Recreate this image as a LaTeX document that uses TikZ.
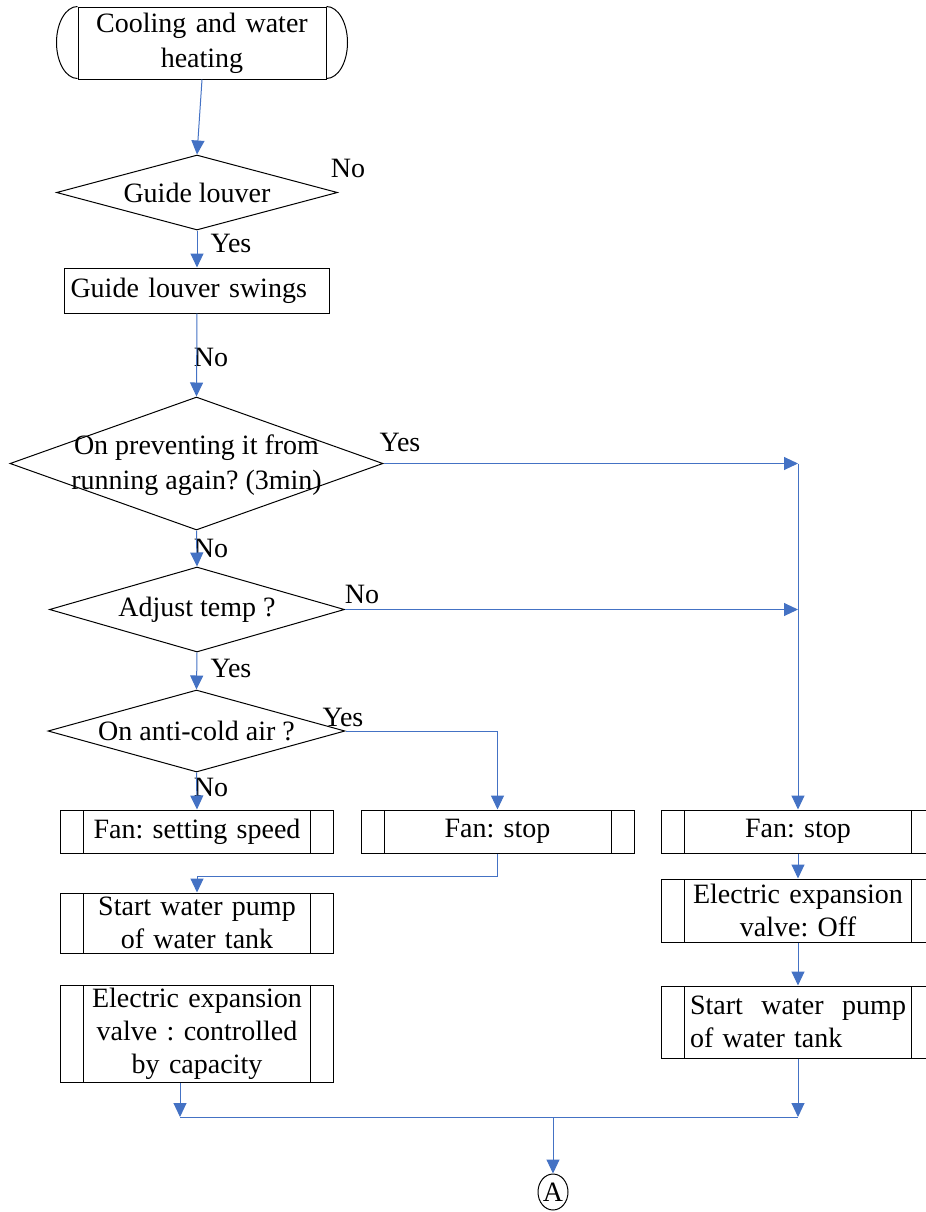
\documentclass[tikz,border=0pt]{standalone}
\usepackage{fontspec}
\setmainfont{Liberation Serif}
\usetikzlibrary{shapes.geometric,arrows.meta,calc}
\frenchspacing
\definecolor{flowblue}{HTML}{4472C4}
\tikzstyle{every node}=[font=\fontsize{14}{16.5}\selectfont]
\tikzstyle{every path}=[line width=0.5pt]
\tikzstyle{flow}=[draw=flowblue,-{Triangle[length=7pt,width=6.5pt]}]
\tikzstyle{link}=[draw=flowblue]
\tikzstyle{decision}=[diamond,draw,inner sep=0pt]
\tikzstyle{lbl}=[inner sep=0pt]
\tikzstyle{subproc}=[draw,rectangle,minimum width=136.5pt,text width=110pt,align=center,
    inner xsep=0pt,inner ysep=0.5pt,
    path picture={\draw ([xshift=11.5pt]path picture bounding box.north west) -- ([xshift=11.5pt]path picture bounding box.south west)
    ([xshift=-11.5pt]path picture bounding box.north east) -- ([xshift=-11.5pt]path picture bounding box.south east);}]

\begin{document}
\begin{tikzpicture}[x=0.5pt,y=-0.5pt]
    \useasboundingbox (0,0) rectangle (926,1212);

    % Start terminal
    \node[draw,minimum width=124pt,minimum height=36pt,text width=110pt,align=center,inner sep=0pt,
        font=\fontsize{14}{17.5}\selectfont] (start) at (202,43) {Cooling and water\\heating};
    \draw (start.north west) arc[start angle=90,end angle=270,x radius=10.5pt,y radius=18pt]
    (start.north east) arc[start angle=90,end angle=-90,x radius=10.5pt,y radius=18pt];

    % Decisions and boxes of the main column
    \node[decision,minimum width=140.5pt,minimum height=37.5pt] (guide) at (197,192.5) {};
    \node (guidetxt) at (guide.center) {Guide louver};
    \node[draw,minimum width=132.5pt,minimum height=22.5pt,text width=126.5pt,inner xsep=3pt,inner ysep=0pt,align=left] (swing) at (197,290.5) {Guide louver swings};
    \node[decision,minimum width=186.5pt,minimum height=66.5pt] (prevent) at (196.5,463.5) {};
    \node[align=center,inner sep=0pt,font=\fontsize{14}{17.5}\selectfont] (preventtxt) at (196.5,465) {On preventing it from\\running again? (3min)};
    \node[decision,minimum width=147.5pt,minimum height=42.5pt] (adjust) at (197,609.5) {};
    \node (adjusttxt) at (adjust.center) {Adjust temp\hspace{0.25em}?};
    \node[decision,minimum width=148.5pt,minimum height=41pt] (anticold) at (196.5,731) {};
    \node (anticoldtxt) at (anticold.center) {On anti-cold air\hspace{0.25em}?};

    % Process boxes
    \node[subproc,minimum height=21.5pt] (fanset) at (197,831.5) {Fan: setting speed};
    \node[subproc,minimum height=21.5pt] (fanstop) at (497.5,831.5) {Fan: stop};
    \node[subproc,minimum height=21.5pt] (fanoff) at (798,831.5) {Fan: stop};
    \node[subproc,minimum height=30pt] (pumpL) at (197,923) {Start water pump\\of water tank};
    \node[subproc,minimum height=48.5pt] (evvL) at (197,1033.5) {Electric expansion\\valve : controlled\\by capacity};
    \node[subproc,minimum height=31.5pt] (valveR) at (798,910.5) {Electric expansion\\valve: Off};
    \node[subproc,minimum height=36pt,text width=108pt,align=left] (pumpR) at (798,1022) {Start\hfill water\hfill pump\\of water tank};
    \node[ellipse,draw,minimum width=15pt,minimum height=18pt,inner sep=0pt] (conA) at (553,1192) {A};

    % Yes / No labels
    \node[lbl] (no1) at (348,168) {No};
    \node[lbl] (yes1) at (231,243) {Yes};
    \node[lbl] (no2) at (211,357) {No};
    \node[lbl] (yes2) at (400,442) {Yes};
    \node[lbl] (no3) at (211,548) {No};
    \node[lbl] (no4) at (362,594) {No};
    \node[lbl] (yes3) at (231,668) {Yes};
    \node[lbl] (yes4) at (343,717) {Yes};
    \node[lbl] (no5) at (211,787) {No};

    % Named points for the connectors
    \coordinate (trunk1) at (prevent.east -| fanoff.north);
    \coordinate (trunk2) at (adjust.east -| fanoff.north);
    \coordinate (elbow) at (497.5,876);
    \coordinate (joinL) at (180,1117);
    \coordinate (joinR) at (fanoff.south |- joinL);
    \coordinate (joinM) at (553,1117);

    % Connectors
    \draw[flow] (start.south) -- (guide.north);
    \draw[flow] (guide.south) -- (swing.north);
    \draw[flow] (swing.south) -- (prevent.north);
    \draw[flow] (prevent.south) -- (adjust.north);
    \draw[flow] (adjust.south) -- (anticold.north);
    \draw[flow] (anticold.south) -- (fanset.north);
    \draw[flow] (anticold.east) -| (fanstop.north);
    \draw[flow] (prevent.east) -- (trunk1);
    \draw[flow] (adjust.east) -- (trunk2);
    \draw[flow] (trunk1) -- (fanoff.north);
    \draw[flow] (fanstop.south) -- (elbow) -| (pumpL.north);
    \draw[flow] (fanoff.south) -- (valveR.north);
    \draw[flow] (valveR.south) -- (pumpR.north);
    \draw[flow] (evvL.south -| joinL) -- (joinL);
    \draw[flow] (pumpR.south) -- (joinR);
    \draw[link] (joinL) -- (joinR);
    \draw[flow] (joinM) -- (conA.north);
\end{tikzpicture}
\end{document}
